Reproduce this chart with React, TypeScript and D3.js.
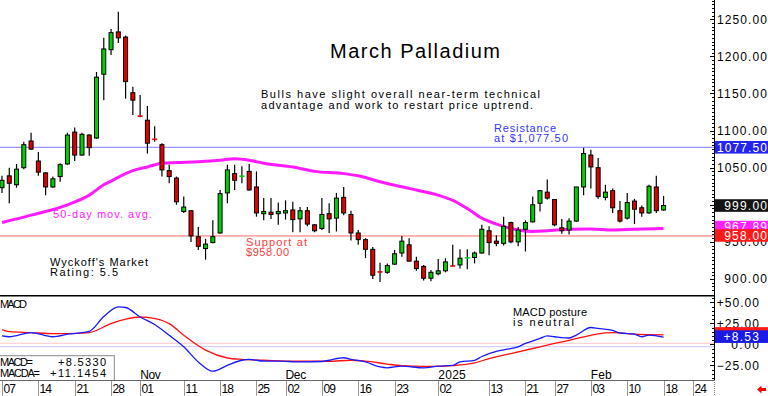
import React, { useEffect, useRef } from 'react';
import * as d3 from 'd3';

// trading days shown on the chart (MM-DD)
const octDays = '07 08 09 10 11 14 15 16 17 18 21 22 23 24 25 28 29 30 31'.split(' ').map((d) => '10-' + d);
const novDays = '01 04 05 06 07 08 11 12 13 14 15 18 19 20 21 22 25 26 27 29'.split(' ').map((d) => '11-' + d);
const decDays = '02 03 04 05 06 09 10 11 12 13 16 17 18 19 20 23 24 26 27 30 31'.split(' ').map((d) => '12-' + d);
const janDays = '02 03 06 07 08 09 10 13 14 15 16 17 21 22 23 24 27 28 29 30 31'.split(' ').map((d) => '01-' + d);
const febDays = '03 04 05 06 07 10 11 12 13 14 18'.split(' ').map((d) => '02-' + d);
const futureDays = ['02-19', '02-20', '02-21', '02-24', '02-25', '02-26'];
const tradeDays = [...octDays, ...novDays, ...decDays, ...janDays, ...febDays];
const axisDays = [...tradeDays, ...futureDays];

const opens = [
  1023, 1039, 1027, 1050, 1086, 1059, 1043, 1024, 1038, 1055, 1098, 1067, 1094, 1090, 1176, 1209, 1233, 1226, 1151,
  1120, 1114, 1089, 1081, 1046, 1036, 991, 992, 957, 941, 949, 962, 1016, 1042, 1038, 1045, 1024, 988, 990, 988,
  989, 993, 981, 992, 973, 968, 988, 982, 1010, 987, 962, 953, 940, 910, 909, 920, 935, 946, 924, 917, 901, 907,
  911, 918, 919, 928, 929, 935, 965, 951, 948, 976, 950, 967, 977, 1002, 1017, 1007, 969, 966, 978, 1024, 1067,
  1050, 1010, 1019, 992, 982, 1005, 996, 989, 1024, 993,
];
const highs = [
  1039, 1050, 1055, 1085, 1097, 1071, 1044, 1038, 1056, 1097, 1104, 1097, 1095, 1179, 1225, 1237, 1260, 1228, 1159,
  1148, 1133, 1106, 1083, 1054, 1038, 1011, 992, 970, 954, 979, 1020, 1054, 1054, 1052, 1055, 1045, 1009, 1009,
  1003, 1006, 1004, 997, 997, 974, 1009, 1002, 1016, 1024, 992, 966, 955, 943, 922, 921, 939, 958, 955, 930, 919,
  912, 927, 928, 946, 940, 940, 937, 973, 971, 959, 984, 977, 970, 979, 1011, 1020, 1034, 1007, 981, 982, 1024,
  1077, 1074, 1063, 1027, 1022, 1005, 1016, 1008, 999, 1027, 1039, 1012,
];
const lows = [
  1016, 1002, 1023, 1048, 1074, 1039, 1013, 1023, 1031, 1054, 1059, 1066, 1066, 1089, 1141, 1202, 1218, 1143, 1121,
  1118, 1069, 1085, 1038, 1029, 1000, 989, 950, 939, 926, 948, 961, 1002, 1020, 1029, 1019, 984, 979, 981, 973,
  980, 963, 963, 971, 963, 966, 962, 964, 986, 952, 946, 928, 900, 896, 907, 919, 930, 924, 911, 898, 897, 905,
  909, 917, 914, 913, 921, 934, 932, 944, 945, 948, 944, 937, 976, 991, 1007, 971, 961, 960, 977, 1013, 1022,
  1008, 1006, 989, 976, 980, 974, 984, 988, 989, 992,
];
const closes = [
  1033, 1029, 1048, 1081, 1075, 1044, 1024, 1035, 1054, 1094, 1067, 1095, 1077, 1172, 1210, 1232, 1225, 1166, 1141,
  1119, 1083, 1087.5, 1047, 1038, 1004, 997, 958, 944, 947, 957, 1015, 1047, 1033, 1039, 1020, 989, 991, 987, 991,
  992, 980, 992, 974, 965, 987, 981, 1009, 989, 962, 953, 940, 905, 909, 918, 934, 951, 924, 914, 901, 909, 911,
  923, 917, 928, 929, 935, 967, 949, 948, 971, 950, 966, 976, 1000, 1019, 1009, 973, 965, 978, 1024, 1069, 1051,
  1011, 1017, 996, 978, 1003, 994, 989, 1025, 992, 999,
];

// 50-day moving average, read at these trading-day indexes
const maDays = [0, 4, 9, 12, 14, 15, 18, 20, 22, 24, 27, 30, 32, 34, 36, 40, 43, 47, 49, 52, 57, 60, 62, 64, 66, 68, 70, 71, 73, 75, 78, 81, 84, 87, 91];
const maValues = [976, 986, 1000, 1013, 1027, 1032, 1046, 1051, 1056, 1057, 1058, 1060, 1062, 1060, 1056, 1051, 1045, 1042, 1039, 1031, 1020, 1013, 1006, 995, 982, 974, 968, 966, 964, 965, 967, 967.5, 966, 967, 967.89];

const macdDays = [0, 1, 4, 7, 9, 12, 14, 16, 17, 19, 21, 23, 25, 27, 29, 31, 33, 34, 36, 38, 41, 44, 45, 47, 48, 50, 52, 53, 55, 58, 60, 62, 63, 65, 66, 67, 69, 71, 72, 74, 75, 76, 78, 79, 81, 82, 84, 85, 87, 88, 89, 91];
const macdValues = [10, 9, 14, 9, 12, 15.5, 33, 44.5, 43.8, 32.5, 23.5, 10.7, -3, -21, -32, -25, -19, -18, -20, -20, -21, -20.5, -19, -16, -18, -21, -27, -28, -26, -28, -26, -25, -21, -19, -14.5, -11, -6.5, -3, 1, 7, 10, 9, 7.5, 11, 20, 19, 16.5, 13.5, 12, 9, 11, 8.533];
const signalDays = [0, 1, 4, 7, 9, 12, 15, 17, 19, 20, 23, 25, 28, 31, 33, 36, 41, 45, 48, 50, 53, 55, 58, 60, 62, 65, 67, 70, 73, 76, 78, 81, 83, 84, 87, 91];
const signalValues = [17.5, 15, 14, 12.7, 12.7, 14, 24.6, 30, 32.5, 32, 24.6, 10.7, -7, -16.3, -18, -19, -20.2, -20.2, -19, -20, -23.5, -25.4, -26.2, -26.2, -25.4, -22.2, -17, -11, -5, 1, 4.8, 10.7, 13.5, 14, 12, 11.1454];

const tickDays = ['10-07', '10-14', '10-21', '10-28', '11-01', '11-11', '11-18', '11-25', '12-02', '12-09', '12-16', '12-23', '01-02', '01-13', '01-21', '01-27', '02-03', '02-10', '02-18', '02-24'];
const monthDays = ['11-01', '12-02', '01-02', '02-03'];
const monthLabels = ['Nov', 'Dec', '2025', 'Feb'];
const priceTicks = [900, 950, 1050, 1100, 1150, 1200, 1250]; // 1000.00 sits fully under the last-price box
const macdTicks = [-25, 0, 25, 50];

const resistance = 1077.5;
const support = 958;
const lastClose = 999;
const lastMa = 967.89;
const lastMacd = 8.533;
const lastSignal = 11.1454;

const FONT = "'Liberation Sans', Arial, sans-serif";
const AX = 714;

export default function App() {
  const ref = useRef<SVGSVGElement>(null);

  useEffect(() => {
    if (!ref.current) return;
    const svg = d3.select(ref.current);
    svg.selectAll('*').remove();

    const x = d3.scalePoint<string>().domain(axisDays).range([2, 2 + 97 * 7.27]);
    const y = d3.scaleLinear().domain([878.4, 1276]).range([295, 0]);
    const ym = d3.scaleLinear().domain([-25, 50]).range([365.3, 302.3]);

    const txt = (
      g: d3.Selection<any, unknown, null, undefined>,
      s: string,
      tx: number,
      ty: number,
      size: number,
      color: string,
      len?: number,
      anchor = 'start'
    ) => {
      const t = g
        .append('text')
        .text(s)
        .attr('x', tx)
        .attr('y', ty)
        .attr('font-family', FONT)
        .attr('font-size', size)
        .attr('fill', color)
        .attr('text-anchor', anchor);
      if (len) t.attr('textLength', len).attr('lengthAdjust', 'spacing');
      return t;
    };

    svg.append('rect').attr('width', 768).attr('height', 396).attr('fill', '#fff');

    const defs = svg.append('defs');
    defs.append('clipPath').attr('id', 'pclip').append('rect').attr('x', 0).attr('y', 0).attr('width', AX).attr('height', 295);
    defs.append('clipPath').attr('id', 'mclip').append('rect').attr('x', 0).attr('y', 297).attr('width', AX).attr('height', 83);

    // ---- price panel
    const price = svg.append('g').attr('clip-path', 'url(#pclip)');

    price.append('line').attr('x1', 0).attr('x2', AX).attr('y1', y(resistance)).attr('y2', y(resistance))
      .attr('stroke', '#7a7aff').attr('stroke-width', 1);
    price.append('line').attr('x1', 0).attr('x2', AX).attr('y1', y(support)).attr('y2', y(support))
      .attr('stroke', '#ff6a6a').attr('stroke-width', 1);

    const maLine = d3.line<number>()
      .x((d, i) => x(tradeDays[maDays[i]])!)
      .y((d) => y(d))
      .curve(d3.curveMonotoneX);
    price.append('path').attr('d', maLine(maValues)!).attr('fill', 'none')
      .attr('stroke', '#ff1aff').attr('stroke-width', 3);

    const candles = tradeDays.map((d, i) => ({ d, o: opens[i], h: highs[i], l: lows[i], c: closes[i] }));
    const cg = price.selectAll('.candle').data(candles).enter().append('g').attr('class', 'candle');
    cg.append('line')
      .attr('x1', (d) => x(d.d)!).attr('x2', (d) => x(d.d)!)
      .attr('y1', (d) => y(d.h)).attr('y2', (d) => y(d.l))
      .attr('stroke', '#000').attr('stroke-width', 1.2);
    cg.each(function (d) {
      const g = d3.select(this);
      const cx = x(d.d)!;
      const col = d.c >= d.o ? '#00d000' : '#e00000';
      const top = y(Math.max(d.o, d.c));
      const bot = y(Math.min(d.o, d.c));
      if (bot - top < 1.6) {
        g.append('rect').attr('x', cx - 2.5).attr('y', (top + bot) / 2 - 0.8).attr('width', 5).attr('height', 1.6).attr('fill', col);
      } else {
        g.append('rect').attr('x', cx - 2).attr('y', top).attr('width', 4).attr('height', bot - top)
          .attr('fill', col).attr('stroke', '#000').attr('stroke-width', 1);
      }
    });

    txt(svg, 'March Palladium', 330, 58, 20, '#000', 170);
    txt(svg, 'Bulls have slight overall near-term technical', 261, 98, 11, '#000', 279);
    txt(svg, 'advantage and work to restart price uptrend.', 261, 108.5, 11, '#000', 272);
    txt(svg, 'Resistance', 494, 132, 11, '#3535ff', 62);
    txt(svg, 'at $1,077.50', 494, 142, 11, '#3535ff', 74);
    txt(svg, 'Support at', 246, 245.5, 11, '#ff3a3a', 61);
    txt(svg, '$958.00', 246, 256, 11, '#ff3a3a', 43);
    txt(svg, '50-day mov. avg.', 53, 217.5, 11, '#ff1aff', 99);
    txt(svg, "Wyckoff's Market", 50, 265.5, 11, '#000', 98);
    txt(svg, 'Rating: 5.5', 50, 276, 11, '#000', 68);

    svg.append('line').attr('x1', 0).attr('x2', AX).attr('y1', 295.8).attr('y2', 295.8).attr('stroke', '#000').attr('stroke-width', 1.5);

    // ---- MACD panel
    const macd = svg.append('g').attr('clip-path', 'url(#mclip)');
    macd.append('line').attr('x1', 0).attr('x2', AX).attr('y1', 343.3).attr('y2', 343.3).attr('stroke', '#ffc8c8');
    macd.append('line').attr('x1', 0).attr('x2', AX).attr('y1', 346.7).attr('y2', 346.7).attr('stroke', '#c8c8ff');

    const sigLine = d3.line<number>()
      .x((d, i) => x(tradeDays[signalDays[i]])!)
      .y((d) => ym(d))
      .curve(d3.curveMonotoneX);
    macd.append('path').attr('d', sigLine(signalValues)!).attr('fill', 'none').attr('stroke', '#ff1010').attr('stroke-width', 1.3);
    const macdLine = d3.line<number>()
      .x((d, i) => x(tradeDays[macdDays[i]])!)
      .y((d) => ym(d))
      .curve(d3.curveMonotoneX);
    macd.append('path').attr('d', macdLine(macdValues)!).attr('fill', 'none').attr('stroke', '#1a1aff').attr('stroke-width', 1.3);

    txt(svg, 'MACD', 0, 307.5, 11, '#000', 27);
    txt(svg, 'MACD posture', 513, 315.5, 11, '#000', 74);
    txt(svg, 'is neutral', 513, 326, 11, '#000', 61);

    monthDays.forEach((d, i) => {
      txt(svg, monthLabels[i], x(d)!, 378.5, 12, '#000', monthLabels[i].length * 6.9);
    });

    svg.append('rect').attr('x', -1).attr('y', 355.7).attr('width', 115.3).attr('height', 30)
      .attr('fill', '#fff').attr('stroke', '#888').attr('stroke-width', 1);
    txt(svg, 'MACD=', 0, 366, 11, '#000', 33);
    txt(svg, '+' + d3.format('.4f')(lastMacd), 106, 366, 11, '#000', 48, 'end');
    txt(svg, 'MACDA=', 0, 377, 11, '#000', 40);
    txt(svg, '+' + d3.format('.4f')(lastSignal), 106, 377, 11, '#000', 56, 'end');

    // ---- bottom date axis
    svg.append('rect').attr('x', 0).attr('y', 380.5).attr('width', AX).attr('height', 16).attr('fill', '#fff');
    svg.append('line').attr('x1', 0).attr('x2', AX).attr('y1', 380.5).attr('y2', 380.5).attr('stroke', '#666');
    tickDays.forEach((d) => {
      const tx = Math.round(x(d)!) + 0.5;
      svg.append('line').attr('x1', tx).attr('x2', tx).attr('y1', 381).attr('y2', 396).attr('stroke', '#999');
      txt(svg, d.slice(3), tx + 1, 392.5, 12, '#000', 12.5);
    });
    svg.append('line').attr('x1', AX + 0.5).attr('x2', AX + 0.5).attr('y1', 380).attr('y2', 396)
      .attr('stroke', '#888').attr('stroke-dasharray', '1,1');

    // ---- right axis
    svg.append('line').attr('x1', AX + 0.5).attr('x2', AX + 0.5).attr('y1', 0).attr('y2', 380).attr('stroke', '#000');
    d3.range(880, 1280, 5).forEach((v) => {
      const ty = Math.round(y(v)) + 0.5;
      if (ty > 294) return;
      const major = v % 50 === 0;
      svg.append('line').attr('x1', AX - (major ? 4 : 2)).attr('x2', AX).attr('y1', ty).attr('y2', ty).attr('stroke', '#000');
    });
    d3.range(-40, 60, 5).forEach((v) => {
      const ty = Math.round(ym(v)) + 0.5;
      if (ty < 298 || ty > 379) return;
      const major = v % 25 === 0;
      svg.append('line').attr('x1', AX - (major ? 4 : 2)).attr('x2', AX).attr('y1', ty).attr('y2', ty).attr('stroke', '#000');
    });

    priceTicks.forEach((v) => {
      const s = d3.format('.2f')(v);
      txt(svg, s, 767, y(v) + 4.3, 12, '#000', s.length * 7.3 - 1, 'end');
    });
    macdTicks.forEach((v) => {
      const s = (v > 0 ? '+' : '') + d3.format('.2f')(v);
      txt(svg, s, 759, ym(v) + 4.3, 12, '#000', s.length * 7.2 - 1, 'end');
    });

    const box = (v: number, yy: number, bg: string, label: string, right: number) => {
      svg.append('rect').attr('x', AX + 1).attr('y', yy - 6.3).attr('width', 768 - AX - 1).attr('height', 12.6).attr('fill', bg);
      if (label) txt(svg, label, right, yy + 4.3, 12, '#fff', label.length * 7.3 - 1, 'end');
    };
    box(resistance, y(resistance), '#2424f0', d3.format('.2f')(resistance), 767);
    box(lastClose, y(lastClose), '#141414', d3.format('.2f')(lastClose), 767);
    box(lastMa, y(lastMa) - 1.5, '#ff22ff', d3.format('.2f')(lastMa), 767);
    box(support, y(support) - 0.5, '#ff1a1a', d3.format('.2f')(support), 767);
    box(lastSignal, ym(lastSignal) - 1.5, '#ff1a1a', '', 759);
    box(lastMacd, ym(lastMacd) - 0.5, '#1a1ae6', '+' + d3.format('.2f')(lastMacd), 759);

    // small red arrow, bottom right
    svg.append('polygon')
      .attr('points', '757,389.5 761.5,385.5 761.5,388 766,388 766,391 761.5,391 761.5,393.5')
      .attr('fill', '#ff0000');
  }, []);

  return (
    <svg
      ref={ref}
      width={768}
      height={396}
      style={{ position: 'absolute', left: 0, top: 0, display: 'block' }}
    />
  );
}
